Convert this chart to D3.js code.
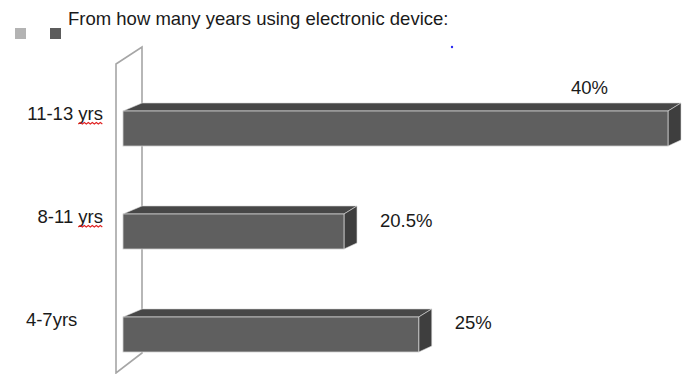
<!DOCTYPE html>
<html>
<head>
<meta charset="utf-8">
<script src="https://cdn.jsdelivr.net/npm/d3@7"></script>
<style>
  html, body { margin: 0; padding: 0; background: #fff; }
  svg { display: block; font-family: "Liberation Sans", Arial, sans-serif; }
</style>
</head>
<body>
<svg id="chart" width="689" height="374"></svg>
<script>
// Survey answers: how long respondents have been using an electronic device
const categories = ["11-13 yrs", "8-11 yrs", "4-7yrs"];
const values = [40, 20.5, 25];
const valueLabels = ["40%", "20.5%", "25%"];
const title = "From how many years using electronic device:";
const legendColors = ["#b3b3b3", "#5c5c5c"];

const svg = d3.select("#chart");
const W = 689, H = 374;
const FS = 18.5;

// value axis starts near 7%, as in the original workbook chart
const x = d3.scaleLinear().domain([7.2, 40]).range([123, 668]);
const y = d3.scaleBand().domain(categories).range([111, 352]).paddingInner(0.66).paddingOuter(0);

// 3D depth offsets
const depthL = { dx: 19, dy: -8 };
const depthR = { dx: 13, dy: -8 };
const depthRB = -6;

// title and legend swatches
svg.append("text")
  .attr("x", 68).attr("y", 25)
  .attr("font-size", FS).attr("fill", "#1a1a1a")
  .text(title);

svg.selectAll("rect.legend").data(legendColors).join("rect")
  .attr("class", "legend")
  .attr("x", (d, i) => 15 + i * 35).attr("y", 28)
  .attr("width", 11).attr("height", 11)
  .attr("fill", d => d);

// tiny stray dot
svg.append("circle").attr("cx", 452).attr("cy", 47).attr("r", 1.2).attr("fill", "#2b2bf0");

// back wall of the 3D plot area
const wallL = 116, wallR = 142;
const wallPath = d3.path();
wallPath.moveTo(wallL, 64);
wallPath.lineTo(wallR, 47);
wallPath.lineTo(wallR, 353);
wallPath.lineTo(wallL, 373);
wallPath.closePath();
svg.append("path").attr("d", wallPath.toString())
  .attr("fill", "none").attr("stroke", "#a6a6a6").attr("stroke-width", 1.6);

// bars
const bars = svg.selectAll("g.bar").data(categories).join("g").attr("class", "bar");

bars.each(function(c, i) {
  const g = d3.select(this);
  const x0 = x(x.domain()[0]);
  const x1 = x(values[i]);
  const yt = y(c);
  const yb = yt + y.bandwidth();

  // top face
  g.append("path")
    .attr("d", `M${x0},${yt}L${x0 + depthL.dx},${yt + depthL.dy}L${x1 + depthR.dx},${yt + depthR.dy}L${x1},${yt}Z`)
    .attr("fill", "#474747").attr("stroke", "#d9d9d9").attr("stroke-width", 0.6);
  // side face
  g.append("path")
    .attr("d", `M${x1},${yt}L${x1 + depthR.dx},${yt + depthR.dy}L${x1 + depthR.dx},${yb + depthRB}L${x1},${yb}Z`)
    .attr("fill", "#3e3e3e").attr("stroke", "#d9d9d9").attr("stroke-width", 0.6);
  // front face
  g.append("rect")
    .attr("x", x0).attr("y", yt)
    .attr("width", x1 - x0).attr("height", y.bandwidth())
    .attr("fill", "#5f5f5f").attr("stroke", "#d0d0d0").attr("stroke-width", 0.8);
});

// value labels: to the right of the bar, or above it when there is no room
bars.each(function(c, i) {
  const g = d3.select(this);
  const x1 = x(values[i]);
  const yt = y(c);
  const t = g.append("text")
    .attr("font-size", FS).attr("fill", "#1a1a1a")
    .text(valueLabels[i]);
  const w = t.node().getComputedTextLength();
  if (x1 + 36 + w > W - 4) {
    t.attr("text-anchor", "end").attr("x", x1 - 60).attr("y", yt - 17);
  } else {
    t.attr("x", x1 + 36).attr("y", yt + y.bandwidth() / 2 - 5);
  }
});

// category labels with spell-check squiggles under "yrs"
const catX = 103;
categories.forEach((c, i) => {
  const yt = y(c);
  const base = yt + y.bandwidth() / 2 - 8.5;
  const t = svg.append("text")
    .attr("x", catX).attr("y", base)
    .attr("text-anchor", "end")
    .attr("font-size", FS).attr("fill", "#1a1a1a")
    .style("white-space", "pre")
    .text(i === 2 ? c + "     " : c);
  const k = c.indexOf(" yrs");
  if (k >= 0) {
    const node = t.node();
    const sx = node.getStartPositionOfChar(k + 1).x;
    const ex = node.getEndPositionOfChar(c.length - 1).x;
    const sq = d3.path();
    const yy = base + 4;
    sq.moveTo(sx, yy);
    let up = true;
    for (let px = sx + 2; px <= ex; px += 2) {
      sq.lineTo(px, up ? yy - 1.5 : yy);
      up = !up;
    }
    svg.append("path").attr("d", sq.toString())
      .attr("fill", "none").attr("stroke", "#e02020").attr("stroke-width", 1.1);
  }
});
</script>
</body>
</html>
